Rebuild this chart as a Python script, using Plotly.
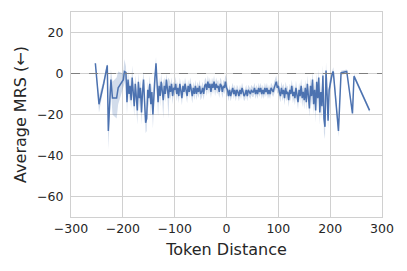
import plotly.graph_objects as go

# Token distance positions
x_left = [-253, -246, -237, -230, -228, -223, -220, -212, -209, -199, -197, -194]
y_left = [5, -15, -5, 4, -28, -3, -12, -12, -7, -3, 1, 0.5]
ci_left = [0.5, 4, 2, 1, 9, 5, 8, 10, 8, 3, 6, 3]

x_mid = list(range(-192, 191, 2))
y_mid = [
    # -192 .. -100
    -14, -3, -10, -6, -13, -2, -9, -16, -5, -11, -18, -4, -12, -7, -19, -9, -3, -14,
    -24, -22, -8, -12, -5, -15, -9, -20, -6, -2, 5, -8, -14, -6, -11, -4, -9, -13,
    -6, -10, -3, -8, -12, -6, -9, -5, -11, -7, -8,
    # -98 .. -50
    -5, -10, -7, -11, -5, -8, -12, -6, -9, -5, -8, -11, -6, -9, -5, -8, -11, -7, -10,
    -6, -10, -7, -9, -6, -10,
    # -48 .. 0
    -9, -7, -10, -6, -5, -8, -4, -7, -5, -9, -5, -7, -4, -8, -5, -7, -6, -9, -5, -6,
    -9, -6, -7, -4, -7,
    # 2 .. 50
    -8, -11, -8, -11, -9, -7, -10, -8, -11, -8, -9, -11, -8, -10, -7, -9, -11, -10,
    -8, -11, -8, -9, -10, -8, -9,
    # 52 .. 100
    -9, -7, -10, -8, -10, -7, -9, -7, -10, -8, -10, -7, -9, -7, -10, -8, -10, -7, -8,
    -9, -7, -5, -4, -7, -6,
    # 102 .. 150
    -9, -11, -7, -10, -8, -12, -7, -10, -9, -13, -8, -10, -6, -11, -9, -12, -7, -10,
    -14, -8, -11, -6, -12, -9, -13,
    # 152 .. 190
    -7, -14, -5, -12, -17, -6, -11, -3, -15, -8, -18, -4, -12, -2, -19, -9, -16, -1,
    -22, -26,
]
ci_mid = [
    # -192 .. -100
    6, 5, 4, 5, 4, 6, 4, 5, 4, 5, 7, 4, 5, 4, 6, 5, 4, 5,
    5, 6, 4, 5, 4, 6, 4, 7, 4, 3, 3, 5, 7, 4, 5, 4, 4, 9,
    4, 4, 3, 4, 10, 3, 4, 3, 4, 3, 3,
    # -98 .. -50
    3.5, 3.5, 3, 3.5, 3, 3, 3.5, 3, 3, 3, 3, 3.5, 3, 3, 3, 3, 3.5, 3, 3,
    3, 3, 3, 3, 3, 3,
    # -48 .. 0
    3, 3, 3, 3, 3, 3, 3, 3, 3, 3, 3, 3, 3, 3, 3, 3,
    3, 3, 3, 3, 3, 3, 3, 3.5, 4.5,
    # 2 .. 50
    2.5, 2.5, 2.5, 2.5, 2.5, 2.5, 2.5, 2.5, 2.5, 2.5, 2.5, 2.5, 2.5, 2.5, 2.5, 2.5,
    2.5, 2.5, 2.5, 2.5, 2.5, 2.5, 2.5, 2.5, 2.5,
    # 52 .. 100
    2.5, 2.5, 2.5, 2.5, 2.5, 2.5, 2.5, 2.5, 2.5, 2.5, 2.5, 2.5, 2.5, 2.5, 2.5, 2.5,
    2.5, 2.5, 2.5, 2.5, 3, 3, 3, 3, 3,
    # 102 .. 150
    3, 3, 3, 3.5, 3, 3.5, 3, 3.5, 3, 3.5, 3, 3.5, 3, 3.5, 3.5, 3.5, 3.5, 3.5,
    3.5, 3.5, 3.5, 3.5, 4.5, 3.5, 4.5,
    # 152 .. 190
    4, 4, 4, 5, 4, 4, 5, 4, 5, 4, 6, 4, 5, 4, 6, 5, 6, 5,
    7, 6,
]

x_right = [192, 194, 196, 198, 200, 204, 206, 210, 216, 221, 232, 243, 246, 276]
y_right = [1.5, -10, -23, -8, -5, 0, 1, -10, -28, 0.3, 1, -19.5, -1.3, -18]
ci_right = [4, 5, 4, 4, 3, 2, 2, 3, 3, 1, 1, 1, 1, 1]

x_vals = x_left + x_mid + x_right
y_vals = y_left + y_mid + y_right
ci_vals = ci_left + ci_mid + ci_right

upper = [y + c for y, c in zip(y_vals, ci_vals)]
lower = [y - c for y, c in zip(y_vals, ci_vals)]

x_ticks = [-300, -200, -100, 0, 100, 200, 300]
y_ticks = [20, 0, -20, -40, -60]

def fmt(v):
    return ("\u2212" + str(abs(v))) if v < 0 else str(v)

blue = "#4C72B0"
fig = go.Figure()
fig.add_trace(go.Scatter(x=x_vals, y=upper, mode="lines", line=dict(width=0),
                         hoverinfo="skip", showlegend=False))
fig.add_trace(go.Scatter(x=x_vals, y=lower, mode="lines", line=dict(width=0),
                         fill="tonexty", fillcolor="rgba(76,114,176,0.25)",
                         hoverinfo="skip", showlegend=False))
fig.add_trace(go.Scatter(x=x_vals, y=y_vals, mode="lines",
                         line=dict(color=blue, width=1.5), showlegend=False))
fig.add_shape(type="line", xref="paper", x0=0, x1=1, yref="y", y0=0, y1=0,
              line=dict(color="#7f7f7f", width=1.2, dash="dash"))

axis_common = dict(showgrid=True, gridcolor="#d0d0d0", gridwidth=1,
                   zeroline=False, showline=True, linecolor="#d0d0d0", linewidth=1,
                   mirror=True, ticks="", tickfont=dict(size=12.5, color="#262626"))
# page body has an 8px margin, so the figure is sized and offset to compensate
fig.update_layout(
    width=399, height=263,
    margin=dict(l=63, r=25, t=4, b=54),
    plot_bgcolor="white", paper_bgcolor="white",
    font=dict(family="DejaVu Sans", color="#262626"),
    xaxis=dict(range=[-300, 300], tickvals=x_ticks, ticktext=[fmt(v) for v in x_ticks],
               title=dict(text="Token Distance", font=dict(size=16), standoff=8),
               automargin=True, **axis_common),
    yaxis=dict(range=[-70, 30], tickvals=y_ticks, ticktext=[fmt(v) for v in y_ticks],
               title=dict(text="Average MRS (\u2190)", font=dict(size=16), standoff=6),
               ticklabelstandoff=4, automargin=False,
               **axis_common),
)
fig.write_html("out.html")
